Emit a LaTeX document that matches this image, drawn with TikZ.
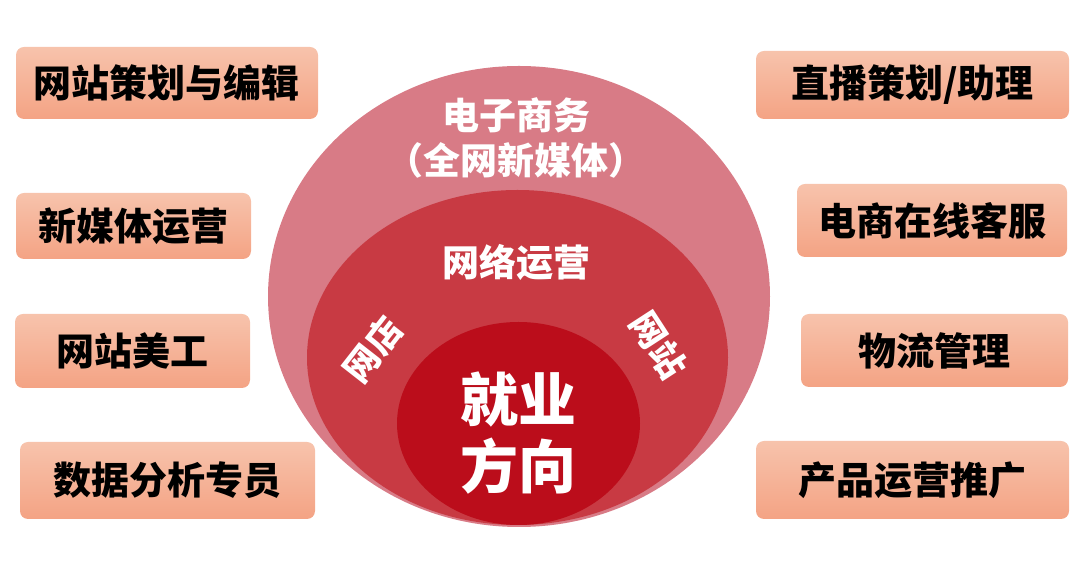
\documentclass[tikz,border=0pt]{standalone}
\usepackage{fontspec}
\setmainfont{Noto Sans CJK SC}
\usetikzlibrary{positioning,shapes.geometric}
\definecolor{rimrose}{HTML}{D87B86}
\definecolor{midred}{HTML}{C83A43}
\definecolor{corered}{HTML}{BB0D1B}
\definecolor{peachtop}{HTML}{F7C3AC}
\definecolor{peachbot}{HTML}{F4A384}

\begin{document}
\begin{tikzpicture}[
  x=1pt, y=1pt,
  ring/.style={ellipse, draw=none, inner sep=0pt},
  job/.style={rounded corners=8pt, top color=peachtop, bottom color=peachbot,
              draw=none, inner sep=0pt, text=black,
              font=\fontsize{38}{44}\selectfont\bfseries},
  tag/.style={text=white, align=center,
              font=\fontsize{37}{45}\selectfont\bfseries},
  side/.style={text=white, font=\fontsize{35}{40}\selectfont\bfseries},
  core/.style={text=white, align=center,
               font=\fontsize{58}{67}\selectfont\bfseries},
]
\useasboundingbox (0,0) rectangle (1080,562);

% nested rings
\node[ring, fill=rimrose, minimum width=502, minimum height=461] (ecom) at (519,265.5) {};
\node[ring, fill=midred, minimum width=421, minimum height=335] (ops) at (517.5,204.5) {};
\node[ring, fill=corered, minimum width=243, minimum height=203] (jobs) at (518.5,138.5) {};

\node[tag] (ecomlab) at (516,424.5) {电子商务\\（全网新媒体）};
\node[tag] (opslab) at (516,300) {网络运营};
\node[side, rotate=52] (shop) at (373,212.5) {网店};
\node[side, rotate=-57] (site) at (658.5,217) {网站};
\node[core] (jobslab) at (518,128.5) {就业\\方向};

% left column
\node[job, minimum width=302, minimum height=72] (plan) at (167,479) {网站策划与编辑};
\node[job, minimum width=235, minimum height=66] (media) at (133.5,336) {新媒体运营};
\node[job, minimum width=235, minimum height=74] (art) at (132.5,211) {网站美工};
\node[job, minimum width=295, minimum height=77] (data) at (167.5,81.5) {数据分析专员};

% right column
\node[job, minimum width=313, minimum height=68] (live) at (912.5,477) {直播策划/助理};
\node[job, minimum width=270, minimum height=73] (service) at (932,341.5) {电商在线客服};
\node[job, minimum width=267, minimum height=73] (logi) at (934.5,211.5) {物流管理};
\node[job, minimum width=313, minimum height=78] (promo) at (912.5,82) {产品运营推广};
\end{tikzpicture}
\end{document}
